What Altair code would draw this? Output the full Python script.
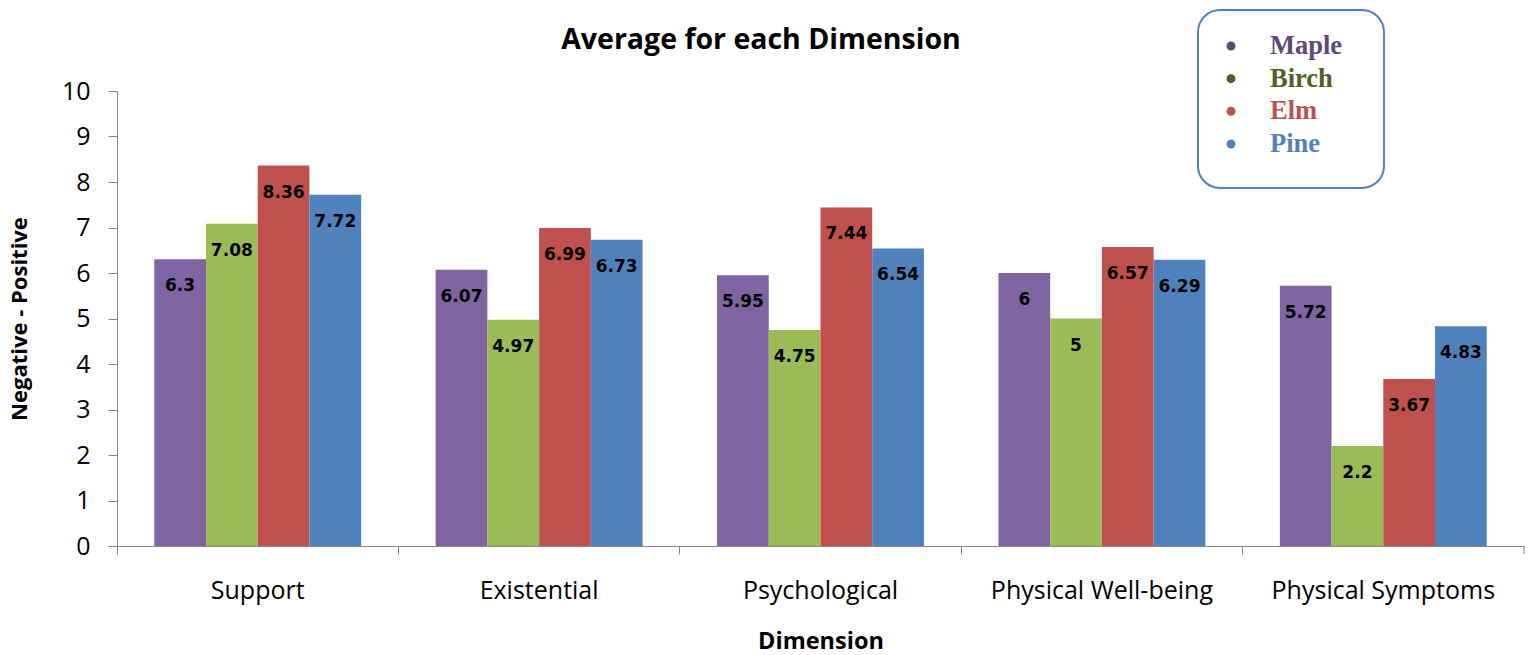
import altair as alt
import pandas as pd

# Category and series values
dimensions = ["Support", "Existential", "Psychological", "Physical Well-being", "Physical Symptoms"]
groups = ["Maple", "Birch", "Elm", "Pine"]
maple = [6.3, 6.07, 5.95, 6, 5.72]
birch = [7.08, 4.97, 4.75, 5, 2.2]
elm = [8.36, 6.99, 7.44, 6.57, 3.67]
pine = [7.72, 6.73, 6.54, 6.29, 4.83]

bar_colors = ["#8064A2", "#9BBB59", "#C0504D", "#4F81BD"]
legend_colors = ["#5F497A", "#4F6228", "#C0504D", "#4F81BD"]

rows = []
for g, vals in zip(groups, [maple, birch, elm, pine]):
    for d, v in zip(dimensions, vals):
        rows.append({"dimension": d, "group": g, "value": v})
df = pd.DataFrame(rows)

legend_df = pd.DataFrame({"group": groups, "color": legend_colors})

W, H = 1407, 455
AXIS_GREY = "#868686"
SANS = "Open Sans"

x_enc = alt.X(
    "dimension:N",
    sort=dimensions,
    scale=alt.Scale(paddingInner=0, paddingOuter=0),
    axis=alt.Axis(
        title="Dimension",
        bandPosition=0,
        labelAngle=0,
        labelLimit=0,
        labelFont=SANS,
        labelFontSize=25,
        labelColor="#000000",
        labelPadding=24,
        tickSize=8,
        tickColor=AXIS_GREY,
        domainColor=AXIS_GREY,
        titleFont=SANS,
        titleFontSize=23.5,
        titleFontWeight="bold",
        titleColor="#000000",
        titlePadding=26,
    ),
)
xoff_enc = alt.XOffset("group:N", sort=groups, scale=alt.Scale(paddingInner=0, paddingOuter=0.72))
y_enc = alt.Y(
    "value:Q",
    scale=alt.Scale(domain=[0, 10], nice=False),
    axis=alt.Axis(
        title="Negative - Positive",
        values=list(range(11)),
        grid=False,
        labelFont=SANS,
        labelFontSize=25,
        labelColor="#000000",
        labelPadding=18,
        tickSize=9,
        tickColor=AXIS_GREY,
        domainColor=AXIS_GREY,
        titleFont=SANS,
        titleFontSize=22,
        titleFontWeight="bold",
        titleColor="#000000",
        titlePadding=30,
    ),
)

bars = alt.Chart(df).mark_bar().encode(
    x=x_enc,
    xOffset=xoff_enc,
    y=y_enc,
    color=alt.Color("group:N", sort=groups,
                    scale=alt.Scale(domain=groups, range=bar_colors), legend=None),
)

labels = alt.Chart(df).mark_text(
    dy=27, baseline="middle", font="DejaVu Sans", fontWeight="bold", fontSize=17, color="#000000"
).encode(
    x=alt.X("dimension:N", sort=dimensions),
    xOffset=alt.XOffset("group:N", sort=groups),
    y=alt.Y("value:Q"),
    text=alt.Text("value:Q", format="~g"),
)

# closing tick at the right end of the category axis
end_tick = alt.Chart(pd.DataFrame({"k": [0]})).mark_rule(color=AXIS_GREY).encode(
    x=alt.value(W), y=alt.value(H), y2=alt.value(H + 8)
)

title = alt.Chart(pd.DataFrame({"t": ["Average for each Dimension"]})).mark_text(
    font=SANS, fontSize=28.5, fontWeight="bold", color="#000000", baseline="middle", align="center"
).encode(x=alt.value(644), y=alt.value(-51), text="t:N")

# legend drawn as a rounded box with coloured dots and labels
box = alt.Chart(pd.DataFrame({"k": [0]})).mark_rect(
    cornerRadius=22, fill="white", stroke="#4F81BD", strokeWidth=2
).encode(x=alt.value(1081), x2=alt.value(1267), y=alt.value(-81), y2=alt.value(97))

leg_y = alt.Y("group:N", sort=groups, scale=alt.Scale(range=[-45, 53], padding=0), axis=None)
dots = alt.Chart(legend_df).mark_circle(size=80, opacity=1).encode(
    x=alt.value(1114), y=leg_y, color=alt.Color("color:N", scale=None)
)
leg_text = alt.Chart(legend_df).mark_text(
    align="left", baseline="middle", font="Liberation Serif", fontWeight="bold", fontSize=26.5
).encode(x=alt.value(1153), y=leg_y, text="group:N", color=alt.Color("color:N", scale=None))

main = alt.layer(bars, labels, end_tick, title)
legend = alt.layer(box, dots, leg_text)

chart = alt.layer(main, legend).resolve_scale(y="independent").properties(
    width=W,
    height=H,
    background="white",
    padding={"left": 117, "top": 91, "right": 6, "bottom": 109},
    autosize=alt.AutoSizeParams(type="none"),
).configure_view(strokeWidth=0, stroke="transparent")

chart.save("out.html", embed_options={"renderer": "svg", "actions": False})
